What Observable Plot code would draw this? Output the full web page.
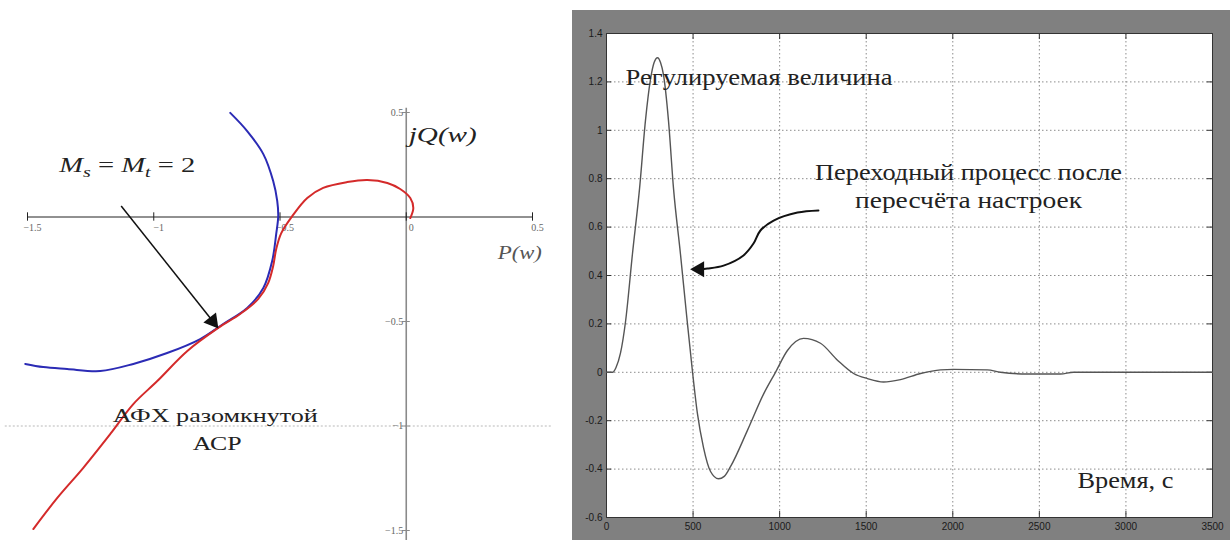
<!DOCTYPE html>
<html>
<head>
<meta charset="utf-8">
<script src="https://cdn.jsdelivr.net/npm/d3@7"></script>
<script src="https://cdn.jsdelivr.net/npm/@observablehq/plot@0.6"></script>
<style>
  html, body { margin: 0; padding: 0; background: #fff; }
  #wrap { position: relative; width: 1230px; height: 540px; overflow: hidden; background: #fff; }
  #wrap svg { position: absolute; }
  #wrap svg text.serif { font-family: "Liberation Serif", serif !important; }
</style>
</head>
<body>
<div id="wrap"></div>
<script>
const SERIF = "Liberation Serif";

// ---------- Left panel: Nyquist plot (АФХ) ----------
const nyqTicksX = [-1.5, -1, -0.5, 0, 0.5];
const nyqTickLabelsX = ["−1.5", "−1", "−0.5", "0", "0.5"];
const nyqTicksY = [0.5, -0.5, -1, -1.5];
const nyqTickLabelsY = ["0.5", "−0.5", "−1", "−1.5"];

// open-loop frequency response (red)
const afcP = [-1.477, -1.382, -1.279, -1.172, -1.081, -0.986, -0.867, -0.745, -0.658, -0.586, -0.547, -0.527, -0.515, -0.495, -0.451, -0.392, -0.329, -0.234, -0.154, -0.075, -0.024, 0.016, 0.028, 0.016];
const afcQ = [-1.493, -1.344, -1.200, -1.038, -0.895, -0.785, -0.641, -0.531, -0.464, -0.392, -0.316, -0.234, -0.153, -0.077, 0.005, 0.091, 0.139, 0.167, 0.177, 0.163, 0.134, 0.091, 0.043, -0.005];

// M-circle M = 2 (blue)
const mCircP = [-0.697, -0.630, -0.566, -0.527, -0.511, -0.507, -0.515, -0.531, -0.566, -0.630, -0.725, -0.816, -0.947, -1.081, -1.212, -1.343, -1.438, -1.509];
const mCircQ = [0.498, 0.411, 0.301, 0.172, 0.077, 0.005, -0.081, -0.211, -0.340, -0.435, -0.512, -0.584, -0.651, -0.703, -0.737, -0.727, -0.718, -0.703];

// annotation arrow (left), in data units
const leftArrowFrom = [-1.129, 0.053];
const leftArrowHead = [-0.767, -0.498];

const afc = afcP.map((p, i) => ({p, q: afcQ[i]}));
const mcirc = mCircP.map((p, i) => ({p, q: mCircQ[i]}));

const left = Plot.plot({
  width: 570, height: 540,
  marginLeft: 27, marginRight: 38, marginTop: 112, marginBottom: 10,
  x: {domain: [-1.5, 0.5], axis: null},
  y: {domain: [-1.5, 0.5], axis: null},
  style: {background: "transparent"},
  marks: [
    Plot.ruleY([-1], {x1: -1.588, x2: 0.578, stroke: "#b8b8b8", strokeDasharray: "2,2", strokeWidth: 1}),
    Plot.ruleX([0], {y1: 0.52, y2: -1.56, stroke: "#8a8a8a", strokeWidth: 1.6}),
    Plot.ruleY([0], {x1: -1.5, x2: 0.5, stroke: "#222", strokeWidth: 1}),
    Plot.ruleX(nyqTicksX, {y1: -0.02, y2: 0.02, stroke: "#222", strokeWidth: 1}),
    Plot.ruleY(nyqTicksY, {x1: -0.016, x2: 0.016, stroke: "#8a8a8a", strokeWidth: 1}),
    Plot.text(nyqTicksX, {x: d => d, y: 0, text: (d, i) => nyqTickLabelsX[i], dy: 11, dx: 5, fontSize: 10, fill: "#666", fontFamily: SERIF}),
    Plot.text(nyqTicksY, {x: 0, y: d => d, text: (d, i) => nyqTickLabelsY[i], dx: -3, textAnchor: "end", fontSize: 10, fill: "#666", fontFamily: SERIF}),
    Plot.line(mcirc, {x: "p", y: "q", curve: "catmull-rom", stroke: "#2b2bb5", strokeWidth: 2}),
    Plot.line(afc, {x: "p", y: "q", curve: "catmull-rom", stroke: "#d42a2a", strokeWidth: 2}),
    Plot.link([0], {x1: leftArrowFrom[0], y1: leftArrowFrom[1], x2: leftArrowHead[0], y2: leftArrowHead[1], stroke: "#111", strokeWidth: 1.5}),
    Plot.dot([0], {x: leftArrowHead[0], y: leftArrowHead[1], symbol: "triangle", r: 6, fill: "#111", stroke: "none", rotate: 141.5}),
    Plot.text(["jQ(w)"], {x: 0.01, y: 0.388, text: d => d, textAnchor: "start", fontSize: 20, fontStyle: "italic", fill: "#222", fontFamily: SERIF}),
    Plot.text(["P(w)"], {x: 0.45, y: -0.172, text: d => d, fontSize: 18, fontStyle: "italic", fill: "#555", fontFamily: SERIF}),
    Plot.text(["MS = MT = 2"], {x: -1.374, y: 0.244, text: d => d, textAnchor: "start", fontSize: 20, fill: "#222", fontFamily: SERIF}),
    Plot.text(["АФХ разомкнутой"], {x: -0.756, y: -0.952, text: d => d, fontSize: 19, fill: "#222", fontFamily: SERIF}),
    Plot.text(["АСР"], {x: -0.749, y: -1.086, text: d => d, fontSize: 19, fill: "#222", fontFamily: SERIF})
  ]
});
left.style.left = "0px";
left.style.top = "0px";

// subscripts for the M label
for (const t of left.querySelectorAll("text")) {
  if (t.textContent === "MS = MT = 2") {
    t.textContent = "";
    const ns = "http://www.w3.org/2000/svg";
    const parts = [["M", "italic", null], ["s", "italic", "sub"], [" = ", "normal", "up"], ["M", "italic", null], ["t", "italic", "sub"], [" = 2", "normal", "up"]];
    for (const [txt, st, sub] of parts) {
      const ts = document.createElementNS(ns, "tspan");
      ts.textContent = txt;
      ts.setAttribute("font-style", st);
      if (sub === "sub") { ts.setAttribute("font-size", "14"); ts.setAttribute("dy", "5"); }
      else if (sub === "up") { ts.setAttribute("dy", "-5"); }
      t.appendChild(ts);
    }
    t.setAttribute("textLength", "136");
    t.setAttribute("lengthAdjust", "spacingAndGlyphs");
  }
}

// ---------- Right panel: step response ----------
const timeTicks = [0, 500, 1000, 1500, 2000, 2500, 3000, 3500];
const timeTickLabels = ["0", "500", "1000", "1500", "2000", "2500", "3000", "3500"];
const valueTicks = [1.4, 1.2, 1, 0.8, 0.6, 0.4, 0.2, 0, -0.2, -0.4, -0.6];
const valueTickLabels = ["1.4", "1.2", "1", "0.8", "0.6", "0.4", "0.2", "0", "-0.2", "-0.4", "-0.6"];

const respT = [0, 35, 55, 81, 110, 150, 191, 225, 254, 275, 295, 312, 329, 358, 387, 427, 462, 497, 525, 560, 601, 647, 680, 716, 814, 907, 976, 1045, 1138, 1236, 1334, 1427, 1507, 1600, 1698, 1814, 1929, 2004, 2200, 2275, 2431, 2622, 2697, 3500];
const respV = [0, 0, 0.02, 0.08, 0.21, 0.49, 0.76, 1.04, 1.21, 1.28, 1.30, 1.28, 1.23, 1.04, 0.76, 0.49, 0.24, 0.0, -0.17, -0.31, -0.41, -0.44, -0.43, -0.39, -0.24, -0.09, 0.0, 0.09, 0.14, 0.12, 0.05, -0.005, -0.026, -0.04, -0.03, -0.005, 0.01, 0.012, 0.01, 0.0, -0.007, -0.007, 0, 0];

// curved annotation arrow (right), in data units
const arrowT = [1224, 1103, 965, 889, 849, 791, 676, 583, 537];
const arrowV = [0.669, 0.660, 0.627, 0.586, 0.532, 0.483, 0.441, 0.429, 0.426];

const resp = respT.map((t, i) => ({t, v: respV[i]}));
const arrow = arrowT.map((t, i) => ({t, v: arrowV[i]}));

const tickLenX = 30;   // in time units
const tickLenY = 0.025;

const right = Plot.plot({
  width: 658, height: 530,
  marginLeft: 34, marginRight: 18, marginTop: 23, marginBottom: 23,
  x: {domain: [0, 3500], ticks: timeTicks, tickFormat: (d, i) => timeTickLabels[i], tickSize: 0, tickPadding: 5, label: null},
  y: {domain: [-0.6, 1.4], ticks: valueTicks, tickFormat: (d, i) => valueTickLabels[i], tickSize: 0, tickPadding: 4, label: null},
  style: {background: "#808080", color: "#1a1a1a", fontSize: "10px", fontFamily: "Liberation Sans Narrow, Liberation Sans, sans-serif"},
  marks: [
    Plot.frame({fill: "#ffffff", stroke: "none"}),
    Plot.ruleX(timeTicks, {stroke: "#8c8c8c", strokeDasharray: "1.5,2.5", strokeWidth: 1}),
    Plot.ruleY(valueTicks, {stroke: "#8c8c8c", strokeDasharray: "1.5,2.5", strokeWidth: 1}),
    Plot.ruleX(timeTicks, {y1: -0.6, y2: -0.6 + tickLenY, stroke: "#333"}),
    Plot.ruleX(timeTicks, {y1: 1.4, y2: 1.4 - tickLenY, stroke: "#333"}),
    Plot.ruleY(valueTicks, {x1: 0, x2: tickLenX, stroke: "#333"}),
    Plot.ruleY(valueTicks, {x1: 3500, x2: 3500 - tickLenX, stroke: "#333"}),
    Plot.frame({stroke: "#333", strokeWidth: 1}),
    Plot.line(resp, {x: "t", y: "v", curve: "monotone-x", stroke: "#555", strokeWidth: 1.4}),
    Plot.line(arrow, {x: "t", y: "v", curve: "catmull-rom", stroke: "#111", strokeWidth: 2}),
    Plot.dot([0], {x: arrowT[arrowT.length - 1], y: arrowV[arrowV.length - 1], symbol: "triangle", r: 6, fill: "#111", stroke: "none", rotate: -90}),
    Plot.text(["Регулируемая величина"], {x: 110, y: 1.218, text: d => d, textAnchor: "start", fontSize: 23, fontFamily: SERIF, fill: "#222"}),
    Plot.text(["Переходный процесс после"], {x: 2091, y: 0.826, text: d => d, fontSize: 23, fontFamily: SERIF, fill: "#222"}),
    Plot.text(["пересчёта настроек"], {x: 2091, y: 0.71, text: d => d, fontSize: 23, fontFamily: SERIF, fill: "#222"}),
    Plot.text(["Время, с"], {x: 2720, y: -0.447, text: d => d, textAnchor: "start", fontSize: 23, fontFamily: SERIF, fill: "#222"})
  ]
});
right.style.left = "572px";
right.style.top = "10px";

// the reference image is horizontally stretched: match text widths
const textWidths = {
  "Регулируемая величина": 267,
  "Переходный процесс после": 307,
  "пересчёта настроек": 227,
  "Время, с": 96,
  "АФХ разомкнутой": 205,
  "АСР": 49,
  "jQ(w)": 68,
  "P(w)": 44
};
for (const svg of [left, right]) {
  for (const t of svg.querySelectorAll("text")) {
    const w = textWidths[t.textContent];
    if (w) {
      t.setAttribute("textLength", String(w));
      t.setAttribute("lengthAdjust", "spacingAndGlyphs");
    }
  }
}
// force serif face on all annotation texts of the left panel and on the right annotations
for (const t of left.querySelectorAll("text")) t.classList.add("serif");
for (const t of right.querySelectorAll("text")) if (textWidths[t.textContent]) t.classList.add("serif");

const wrap = document.getElementById("wrap");
wrap.appendChild(left);
wrap.appendChild(right);
</script>
</body>
</html>
